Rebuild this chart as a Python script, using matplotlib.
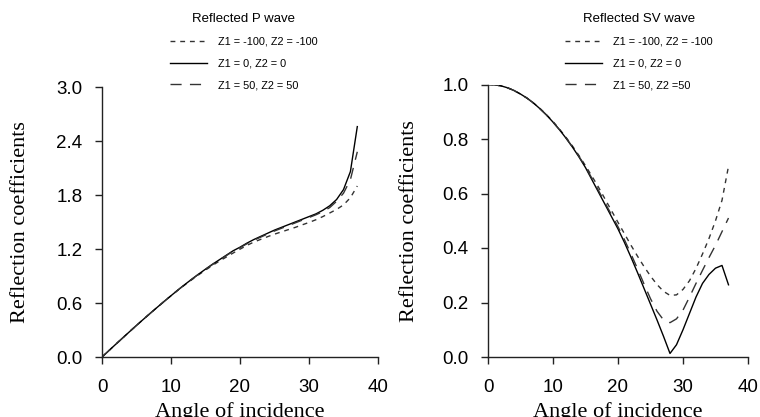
import matplotlib
matplotlib.use("Agg")
import matplotlib.pyplot as plt
import numpy as np

plt.rcParams['font.family'] = ['Liberation Sans', 'DejaVu Sans']

angles = list(range(0, 38))

# Reflected P wave
p_z100 = [0.0, 0.071, 0.142, 0.212, 0.282, 0.351, 0.419, 0.486, 0.552, 0.617,
          0.680, 0.742, 0.801, 0.858, 0.913, 0.966, 1.017, 1.065, 1.11, 1.155,
          1.198, 1.24, 1.277, 1.307, 1.337, 1.365, 1.39, 1.415, 1.44, 1.468,
          1.495, 1.525, 1.56, 1.60, 1.64, 1.69, 1.77, 1.90]
p_z0 = [0.0, 0.071, 0.142, 0.212, 0.282, 0.351, 0.419, 0.486, 0.552, 0.617,
        0.681, 0.744, 0.805, 0.864, 0.921, 0.976, 1.03, 1.08, 1.13, 1.18,
        1.22, 1.265, 1.305, 1.34, 1.375, 1.41, 1.44, 1.47, 1.50, 1.53,
        1.56, 1.59, 1.63, 1.68, 1.75, 1.86, 2.06, 2.56]
p_z50 = [0.0, 0.071, 0.142, 0.212, 0.282, 0.351, 0.419, 0.486, 0.552, 0.617,
         0.681, 0.744, 0.805, 0.863, 0.92, 0.974, 1.027, 1.077, 1.126, 1.175,
         1.215, 1.258, 1.297, 1.332, 1.366, 1.40, 1.43, 1.46, 1.49, 1.52,
         1.55, 1.58, 1.615, 1.66, 1.73, 1.82, 1.97, 2.28]

# Reflected SV wave
sv_z100 = [1.0, 0.999, 0.995, 0.988, 0.978, 0.965, 0.950, 0.932, 0.912, 0.889,
           0.864, 0.836, 0.806, 0.774, 0.739, 0.702, 0.663, 0.623, 0.58, 0.537,
           0.494, 0.452, 0.41, 0.37, 0.332, 0.297, 0.266, 0.241, 0.226, 0.228,
           0.248, 0.28, 0.325, 0.378, 0.435, 0.50, 0.575, 0.70]
sv_z0 = [1.0, 0.999, 0.995, 0.988, 0.978, 0.965, 0.950, 0.932, 0.911, 0.888,
         0.862, 0.834, 0.803, 0.770, 0.734, 0.695, 0.650, 0.605, 0.56, 0.515,
         0.47, 0.42, 0.366, 0.31, 0.252, 0.194, 0.136, 0.076, 0.013, 0.045,
         0.10, 0.16, 0.22, 0.27, 0.303, 0.326, 0.336, 0.265]
sv_z50 = [1.0, 0.999, 0.995, 0.988, 0.978, 0.965, 0.950, 0.932, 0.911, 0.888,
          0.862, 0.834, 0.804, 0.771, 0.736, 0.698, 0.655, 0.611, 0.566, 0.522,
          0.478, 0.43, 0.378, 0.324, 0.268, 0.214, 0.168, 0.136, 0.126, 0.14,
          0.172, 0.22, 0.27, 0.318, 0.365, 0.41, 0.46, 0.51]

p_labels = ["Z1 = -100, Z2 = -100", "Z1 = 0, Z2 = 0", "Z1 = 50, Z2 = 50"]
sv_labels = ["Z1 = -100, Z2 = -100", "Z1 = 0, Z2 = 0", "Z1 = 50, Z2 =50"]

W, H = 760, 417
fig = plt.figure(figsize=(W / 100, H / 100), dpi=100)

ax1 = fig.add_axes([102 / W, 1 - 357 / H, 276 / W, 270 / H])
ax2 = fig.add_axes([488 / W, 1 - 357 / H, 260 / W, 272.5 / H])

short = (0, (3.5, 3.5))
long_ = (0, (8, 6))
styles = [dict(color='#333333', ls=short, lw=1.0),
          dict(color='black', ls='-', lw=1.0),
          dict(color='#333333', ls=long_, lw=1.0)]

for ax, series, labels in [(ax1, [p_z100, p_z0, p_z50], p_labels),
                           (ax2, [sv_z100, sv_z0, sv_z50], sv_labels)]:
    for s, st, lab in zip(series, styles, labels):
        ax.plot(angles, s, label=lab, **st)

serif = ['Liberation Serif', 'DejaVu Serif']
for ax in (ax1, ax2):
    ax.set_xlim(0, 40)
    ax.set_xticks([0, 10, 20, 30, 40])
    for sp in ('top', 'right'):
        ax.spines[sp].set_visible(False)
    for sp in ('left', 'bottom'):
        ax.spines[sp].set_linewidth(1.0)
        ax.spines[sp].set_color('#222222')
    ax.tick_params(direction='out', length=5, width=1.0, color='#222222',
                   labelsize=13.5, pad=9)
    ax.tick_params(axis='x', pad=11)
    ax.set_xlabel("Angle of incidence", fontsize=16, family=serif, labelpad=4)
    ax.set_ylabel("Reflection coefficients", fontsize=16, family=serif)

ax1.set_ylim(0, 3.0)
ax1.set_yticks([0.0, 0.6, 1.2, 1.8, 2.4, 3.0])
ax1.set_yticklabels(["0.0", "0.6", "1.2", "1.8", "2.4", "3.0"])
ax2.set_ylim(0, 1.0)
ax2.set_yticks([0.0, 0.2, 0.4, 0.6, 0.8, 1.0])
ax2.set_yticklabels(["0.0", "0.2", "0.4", "0.6", "0.8", "1.0"])

ax1.yaxis.set_label_coords((30 - 102) / 276, 0.5)
ax2.yaxis.set_label_coords((419 - 488) / 260, 0.5)

leg_kw = dict(frameon=False, fontsize=7.8, handlelength=3.4, handletextpad=1.0,
              labelspacing=1.08, borderpad=0, borderaxespad=0,
              loc='upper left', bbox_transform=fig.transFigure,
              title_fontsize=9.5)
l1 = ax1.legend(title="Reflected P wave", bbox_to_anchor=(170 / W, 1 - 13 / H), **leg_kw)
l2 = ax2.legend(title="Reflected SV wave", bbox_to_anchor=(565 / W, 1 - 13 / H), **leg_kw)

fig.savefig("out.png", dpi=100)
